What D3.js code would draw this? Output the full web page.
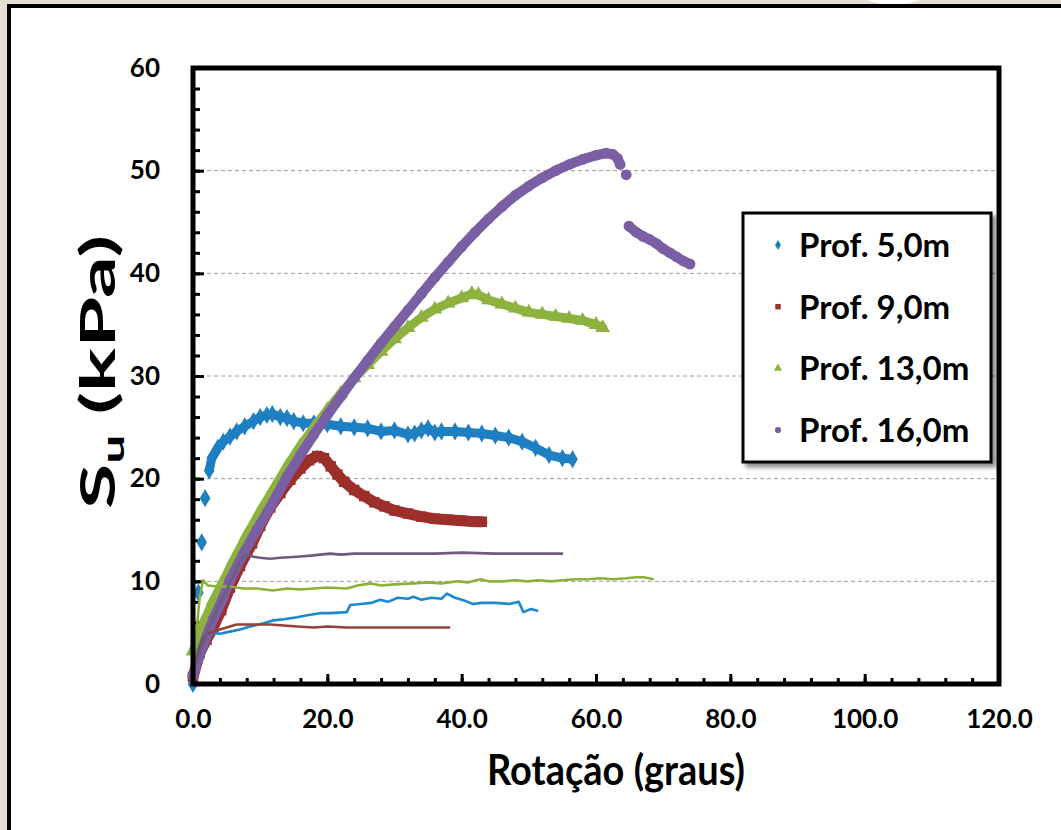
<!DOCTYPE html>
<html>
<head>
<meta charset="utf-8">
<script src="https://cdn.jsdelivr.net/npm/d3@7/dist/d3.min.js"></script>
<style>
  body { margin: 0; background: #e5ded2; }
  svg { display: block; font-family: Lato, "Open Sans", sans-serif; }
</style>
</head>
<body>
<svg id="chart" width="1061" height="830"></svg>
<script>
// Legend labels
var labels = ["Prof. 5,0m", "Prof. 9,0m", "Prof. 13,0m", "Prof. 16,0m"];

// Peak curves (markers), [rotation, Su]; null = break in the curve
var peak5 = [[0,0],null,[0.8,8.9],null,[1.3,13.8],null,[1.8,18.1],null,[2.4,20.8],[2.8,22.0],[3.7,23.0],[4.5,23.6],
  [5.5,24.1],[6.5,24.6],[7.7,25.1],[9,25.6],[10,26.0],[11,26.2],[11.8,26.3],[13,26.0],[14,25.9],[15,25.6],[16.4,25.4],
  [18,25.4],[20,25.3],[22,25.1],[24,25.0],[26,24.9],[28,24.6],[30,24.7],[32,24.3],[33,24.4],[34,24.7],[35,24.9],
  [36,24.5],[37,24.6],[39,24.6],[41,24.5],[43,24.4],[45,24.2],[47,24.0],[49,23.6],[51,23.0],[53,22.3],[55,22.0],[56.5,21.9]];
var peak9 = [[0,0.7],[1,3.0],[2,4.3],[3,5.5],[4.2,7.2],[5.5,9.4],[7,11.5],[8.8,13.7],[10,15.4],[11.5,17.2],[13,18.6],
  [14.5,19.9],[16,21.0],[17.3,21.8],[18.5,22.2],[19.5,22.0],[20.5,21.2],[21.5,20.4],[22.5,19.7],[24,18.9],[25.5,18.3],
  [27,17.7],[28.5,17.3],[30,16.9],[32,16.6],[34,16.3],[36,16.1],[38,16.0],[40,15.9],[42,15.8],[43,15.8]];
var peak13 = [[0,3.2],[1,5.0],[2,6.6],[3,8.1],[4.5,10.0],[6,12.0],[8,14.5],[10,16.8],[12,19.0],[14,21.2],[16,23.2],
  [18,25.0],[20,26.7],[22,28.3],[24,29.8],[26,31.1],[28,32.4],[30,33.6],[32,34.7],[34,35.7],[36,36.5],[38,37.1],
  [40,37.6],[41.5,38.0],[42.5,37.9],[44,37.4],[46,37.0],[48,36.6],[50,36.2],[52,36.0],[54,35.8],[56,35.6],[58,35.4],
  [60,35.0],[61,34.7]];
var peak16 = [[0,0.8],[1,2.8],[2,4.6],[3,6.3],[4.5,8.4],[5.5,10.1],[7.5,12.7],[9.5,15.0],[12,17.8],[14,20.2],[16,22.3],
  [18,24.3],[20,26.2],[22,28.0],[24,29.8],[26,31.5],[28,33.2],[30,34.8],[32,36.4],[34,38.0],[36,39.6],[38,41.1],
  [40,42.6],[42,44.0],[44,45.3],[46,46.5],[48,47.6],[50,48.5],[52,49.3],[54,50.0],[56,50.6],[58,51.1],[60,51.5],
  [61.5,51.7],[62.5,51.6],[63.2,51.2],[63.6,50.6],null,[64.5,49.6],null,[64.9,44.6],[66,44.0],[67,43.6],[68,43.3],
  [69,42.9],[70,42.4],[71,42.0],[72,41.6],[73,41.2],[74,40.9]];

// Remolded curves (thin lines)
var rem5 = [[0,1.0],[0.5,2.5],[1,3.8],[1.5,4.5],[2.5,5.0],[4,4.9],[5.5,5.1],[7,5.3],[8.5,5.6],[10.4,5.9],[12,6.2],
  [13.5,6.3],[15.5,6.5],[17,6.7],[18.9,6.9],[20.5,6.9],[22.9,7.0],[23.4,7.7],[25,7.8],[26.5,7.9],[27.9,8.2],[29,8.0],
  [30.5,8.4],[32,8.3],[32.8,8.5],[34,8.2],[35.5,8.4],[37,8.3],[37.8,8.8],[39,8.4],[40.5,8.1],[41.7,7.8],[43,7.9],
  [45,7.9],[47,7.8],[48.5,8.0],[49.2,7.0],[50.3,7.3],[51.4,7.1]];
var rem9 = [[0,0.8],[0.5,2.2],[1,3.5],[1.5,4.4],[2.2,4.9],[3,5.1],[4.5,5.4],[6.5,5.8],[9,5.8],[11.5,5.8],[13.5,5.7],
  [15.5,5.6],[18,5.5],[20,5.6],[22.9,5.5],[26,5.5],[30,5.5],[34,5.5],[38.3,5.5]];
var rem13 = [[0,1.5],[0.5,5.0],[1,8.5],[1.5,10.1],[2.2,9.6],[3.5,9.5],[5.5,9.5],[7.5,9.3],[9.5,9.3],[11.9,9.1],
  [14,9.3],[16,9.2],[17.9,9.3],[20,9.4],[22.9,9.3],[24.5,9.6],[26.4,9.8],[28,9.6],[30,9.7],[32.8,9.8],[35,9.9],
  [37,9.8],[39.5,10.0],[41,9.9],[42.8,10.2],[44,10.0],[46,10.0],[48,10.1],[49.8,10.0],[51.5,10.1],[53.2,10.0],
  [55,10.1],[57,10.2],[59,10.2],[60.7,10.3],[62.5,10.2],[64.5,10.3],[66,10.4],[67.1,10.4],[68.6,10.2]];
var rem16 = [[0,1.0],[1,3.0],[2,4.8],[3,6.5],[4.5,8.5],[6,10.5],[7.2,12.2],[8,12.6],[9,12.4],[10,12.3],[11.5,12.2],
  [13,12.3],[15.5,12.4],[17.5,12.5],[20.4,12.7],[22,12.6],[24,12.7],[27.9,12.7],[32,12.7],[36,12.7],[40,12.8],
  [45,12.7],[49.8,12.7],[52,12.7],[55.1,12.7]];

var xTicks = [0, 20, 40, 60, 80, 100, 120];
var yTicks = [0, 10, 20, 30, 40, 50, 60];

var markColors = ["#1f7fc3", "#9d2f2b", "#8db23f", "#7a5fa5"];
var lineColors = ["#1c89cf", "#94403b", "#8cb03a", "#6d5b80"];
var symbols = [d3.symbolDiamond, d3.symbolSquare, d3.symbolTriangle, d3.symbolCircle];

var svg = d3.select("#chart");

// frame of the picture
svg.append("rect").attr("x", 0).attr("y", 0).attr("width", 1061).attr("height", 830).attr("fill", "#e5ded2");
svg.append("circle").attr("cx", 894).attr("cy", -65).attr("r", 70).attr("fill", "#fff");
svg.append("rect").attr("x", 11).attr("y", 8).attr("width", 1050).attr("height", 822).attr("fill", "#fff");
svg.append("rect").attr("x", 7).attr("y", 4).attr("width", 4).attr("height", 826).attr("fill", "#000");
svg.append("rect").attr("x", 7).attr("y", 4).attr("width", 1054).attr("height", 4).attr("fill", "#000");

var x = d3.scaleLinear().domain([0, 120]).range([193, 999]);
var y = d3.scaleLinear().domain([0, 60]).range([684, 68]);

// grid
svg.append("g").selectAll("line")
  .data(yTicks.filter(function(d) { return d > 0 && d < 60; }))
  .enter().append("line")
  .attr("x1", x(0)).attr("x2", x(120))
  .attr("y1", function(d) { return y(d); }).attr("y2", function(d) { return y(d); })
  .attr("stroke", "#9a9a9a").attr("stroke-width", 1).attr("stroke-dasharray", "4,3");

// minor ticks
svg.append("g").attr("transform", "translate(0," + y(0) + ")")
  .call(d3.axisBottom(x).tickValues(d3.range(0, 121, 4)).tickSize(-6).tickFormat(""))
  .call(function(g) { g.select(".domain").remove(); g.selectAll("line").attr("stroke-width", 3); });
svg.append("g").attr("transform", "translate(" + x(0) + ",0)")
  .call(d3.axisLeft(y).tickValues(d3.range(0, 61, 2)).tickSize(-7).tickFormat(""))
  .call(function(g) { g.select(".domain").remove(); g.selectAll("line").attr("stroke-width", 3); });

// major ticks and labels
function styleLabels(g) {
  g.select(".domain").remove();
  g.selectAll("line").attr("stroke-width", 3);
  g.selectAll("text").attr("font-size", 26).attr("font-weight", "bold").attr("fill", "#000")
    .attr("font-family", "Lato, sans-serif");
}
svg.append("g").attr("transform", "translate(0," + y(0) + ")")
  .call(d3.axisBottom(x).tickValues(xTicks).tickSize(-10).tickPadding(26).tickFormat(d3.format(".1f")))
  .call(styleLabels);
svg.append("g").attr("transform", "translate(" + x(0) + ",0)")
  .call(d3.axisLeft(y).tickValues(yTicks).tickSize(-11).tickPadding(33))
  .call(styleLabels);

// series
var line = d3.line().defined(function(d) { return d != null; })
  .x(function(d) { return x(d[0]); }).y(function(d) { return y(d[1]); });

var peaks = [peak5, peak9, peak13, peak16];
var rems = [rem5, rem9, rem13, rem16];
var bandW = [9, 11, 9, 10];
var symSize = [95, 110, 95, 90];

peaks.forEach(function(s, i) {
  var g = svg.append("g");
  g.append("path").attr("d", line(s)).attr("fill", "none")
    .attr("stroke", markColors[i]).attr("stroke-width", bandW[i])
    .attr("stroke-linejoin", "round").attr("stroke-linecap", "round");
  g.selectAll("path.m").data(s.filter(function(d) { return d; }))
    .enter().append("path").attr("class", "m")
    .attr("transform", function(d) { return "translate(" + x(d[0]) + "," + y(d[1]) + ")"; })
    .attr("d", d3.symbol().type(symbols[i]).size(symSize[i]))
    .attr("fill", markColors[i]);
});

rems.forEach(function(s, i) {
  svg.append("path").attr("d", line(s)).attr("fill", "none")
    .attr("stroke", lineColors[i]).attr("stroke-width", 2.6)
    .attr("stroke-linejoin", "round");
});

// plot border
svg.append("rect").attr("x", x(0)).attr("y", y(60))
  .attr("width", x(120) - x(0)).attr("height", y(0) - y(60))
  .attr("fill", "none").attr("stroke", "#000").attr("stroke-width", 5);

// axis titles
svg.append("text").attr("transform", "translate(616,785) scale(1,1.12)").attr("text-anchor", "middle")
  .attr("font-size", 38).attr("font-weight", "bold").text("Rotação (graus)");

var yt = svg.append("text").attr("transform", "translate(115,372) rotate(-90) scale(1.72,1)")
  .attr("text-anchor", "middle").attr("font-size", 48).attr("font-weight", "bold");
yt.append("tspan").text("S");
yt.append("tspan").attr("font-size", 30).attr("dy", 9).text("u");
yt.append("tspan").attr("dy", -9).text(" (kPa)");

// legend
var defs = svg.append("defs");
defs.append("filter").attr("id", "shadow").attr("x", "-10%").attr("y", "-10%").attr("width", "130%").attr("height", "130%")
  .append("feDropShadow").attr("dx", 4).attr("dy", 4).attr("stdDeviation", 2)
  .attr("flood-color", "#000").attr("flood-opacity", 0.45);

var lg = svg.append("g").attr("transform", "translate(743,213)");
lg.append("rect").attr("width", 248).attr("height", 249).attr("fill", "#fff")
  .attr("stroke", "#000").attr("stroke-width", 3).attr("filter", "url(#shadow)");
var rows = lg.selectAll("g.row").data(labels).enter().append("g").attr("class", "row")
  .attr("transform", function(d, i) { return "translate(0," + (32 + i * 61.7) + ")"; });
rows.append("path").attr("transform", "translate(35,0)")
  .attr("d", function(d, i) { return d3.symbol().type(symbols[i]).size(30)(); })
  .attr("fill", function(d, i) { return markColors[i]; });
rows.append("text").attr("x", 56).attr("dy", "0.36em")
  .attr("font-size", 33).attr("font-weight", "bold").text(function(d) { return d; });
</script>
</body>
</html>
